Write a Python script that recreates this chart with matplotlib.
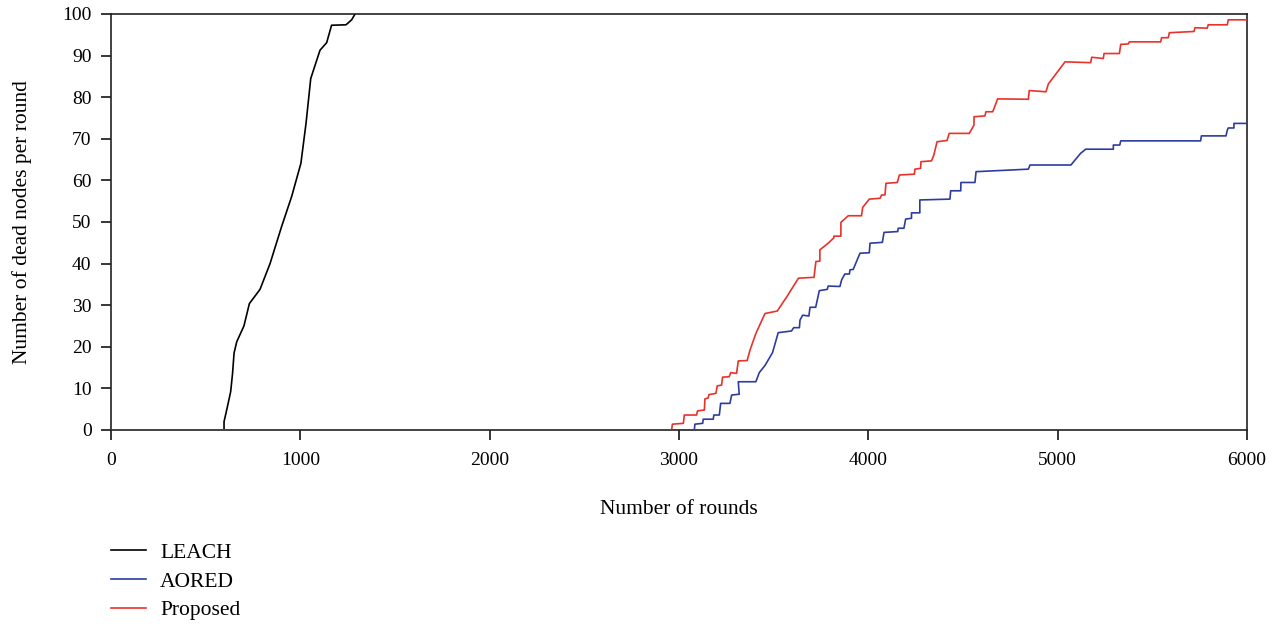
import matplotlib.pyplot as plt

plt.rcParams['font.family'] = ['Liberation Serif', 'DejaVu Serif']

# rounds / dead nodes
leach_rounds = [0, 597, 597, 611, 632, 642, 650, 664, 702, 731, 787, 840, 901, 954,
                1003, 1030, 1055, 1104, 1139, 1165, 1241, 1271, 1289]
leach_dead = [0, 0, 2, 4.8, 9.2, 13.6, 18.5, 21.2, 25, 30.4, 33.8, 40, 48.9, 56.1,
              64.1, 73.7, 84.5, 91.3, 93.1, 97.3, 97.4, 98.6, 100]

aored_rounds = [0, 3081, 3084, 3125, 3128, 3181, 3184, 3213, 3220, 3269, 3278, 3318,
                3313, 3406, 3424, 3454, 3494, 3524, 3594, 3606, 3636, 3639, 3653, 3686,
                3692, 3722, 3741, 3783, 3788, 3850, 3859, 3876, 3900, 3903, 3920, 3956,
                4005, 4009, 4074, 4083, 4155, 4158, 4188, 4197, 4228, 4228, 4272, 4272,
                4431, 4435, 4488, 4489, 4563, 4569, 4845, 4854, 5070, 5121, 5148, 5294,
                5294, 5328, 5333, 5755, 5759, 5889, 5896, 5901, 5931, 5931, 6000]
aored_dead = [0, 0, 1.4, 1.6, 2.6, 2.6, 3.6, 3.6, 6.4, 6.4, 8.4, 8.6,
              11.6, 11.6, 13.8, 15.5, 18.6, 23.4, 23.8, 24.6, 24.6, 26.4, 27.6, 27.4,
              29.5, 29.5, 33.5, 33.8, 34.6, 34.5, 36.1, 37.5, 37.5, 38.5, 38.6, 42.5,
              42.6, 44.9, 45.1, 47.5, 47.7, 48.5, 48.5, 50.7, 50.9, 52.2, 52.2, 55.3,
              55.5, 57.5, 57.5, 59.5, 59.5, 62.1, 62.7, 63.7, 63.7, 66.5, 67.5, 67.5,
              68.5, 68.5, 69.5, 69.5, 70.7, 70.7, 72.1, 72.6, 72.6, 73.7, 73.7]

proposed_rounds = [0, 2961, 2965, 3023, 3028, 3093, 3098, 3134, 3137, 3154, 3158, 3195,
                   3202, 3225, 3230, 3265, 3273, 3304, 3313, 3360, 3375, 3406, 3454, 3519,
                   3569, 3631, 3713, 3723, 3744, 3744, 3788, 3818, 3818, 3855, 3855, 3894,
                   3964, 3970, 4005, 4062, 4070, 4088, 4093, 4153, 4164, 4243, 4246, 4276,
                   4278, 4334, 4346, 4363, 4416, 4427, 4533, 4558, 4558, 4616, 4621, 4657,
                   4683, 4845, 4850, 4938, 4951, 5039, 5174, 5180, 5241, 5245, 5326, 5333,
                   5373, 5379, 5544, 5549, 5584, 5590, 5720, 5725, 5790, 5795, 5896, 5901,
                   6000]
proposed_dead = [0, 0, 1.4, 1.6, 3.6, 3.6, 4.6, 4.8, 7.5, 7.7, 8.5, 8.8,
                 10.6, 10.8, 12.7, 12.8, 13.8, 13.6, 16.6, 16.7, 19.2, 23.2, 28, 28.6,
                 32, 36.5, 36.7, 40.5, 40.6, 43.3, 44.9, 46.2, 46.6, 46.6, 49.9, 51.5,
                 51.5, 53.5, 55.5, 55.7, 56.5, 56.5, 59.3, 59.5, 61.3, 61.5, 62.7, 62.9,
                 64.5, 64.7, 66.1, 69.3, 69.6, 71.3, 71.3, 73.3, 75.3, 75.5, 76.5, 76.5,
                 79.6, 79.5, 81.6, 81.3, 83.2, 88.5, 88.3, 89.6, 89.3, 90.5, 90.5, 92.7,
                 92.8, 93.3, 93.3, 94.3, 94.3, 95.5, 95.8, 96.7, 96.6, 97.4, 97.4, 98.6,
                 98.6]

fig = plt.figure(figsize=(12.83, 6.29), dpi=100)
ax = fig.add_axes([111 / 1283, 1 - 430 / 629, 1136 / 1283, 416 / 629])

ax.plot(leach_rounds, leach_dead, color='black', lw=1.2, label='LEACH', zorder=2)
ax.plot(aored_rounds, aored_dead, color='#2d3c9f', lw=1.2, label='AORED', zorder=4)
ax.plot(proposed_rounds, proposed_dead, color='#e8322b', lw=1.2, label='Proposed', zorder=3)

ax.set_xlim(0, 6000)
ax.set_ylim(0, 100)
ax.set_xticks(range(0, 6001, 1000))
ax.set_yticks(range(0, 101, 10))
ax.tick_params(direction='out', length=7, width=1.1, labelsize=14, pad=7)
ax.tick_params(axis='x', pad=9)
for s in ax.spines.values():
    s.set_linewidth(1.2)
    s.set_color('#222222')

ax.set_xlabel('Number of rounds', fontsize=15.5, labelpad=22)
ax.set_ylabel('Number of dead nodes per round', fontsize=15.5, labelpad=22)

handles, labels = ax.get_legend_handles_labels()
fig.legend(handles, labels, loc='upper left', bbox_to_anchor=(100 / 1283, 1 - 532 / 629),
           frameon=False, fontsize=15.5, handlelength=1.65, handletextpad=0.65,
           labelspacing=0.4, borderpad=0)

fig.savefig('out.png', dpi=100)
